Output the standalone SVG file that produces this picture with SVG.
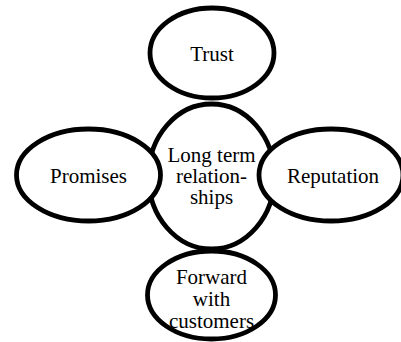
<svg xmlns="http://www.w3.org/2000/svg" width="401" height="342" viewBox="0 0 401 342">
  <style>
    .node ellipse { fill: #ffffff; stroke: #000000; stroke-width: 4.8; }
    .node text { font-family: "Liberation Serif", "Times New Roman", serif; font-size: 21px; fill: #000000; text-anchor: middle; }
  </style>
  <rect width="401" height="342" fill="#ffffff"/>
  <!-- the nodes touch and overlap directly; there are no separate lines -->
  <g id="connectors"></g>
  <g id="center" class="node">
    <ellipse cx="211.5" cy="176.5" rx="63" ry="72.5"/>
    <text x="211.5" y="162">Long term</text>
    <text x="211.5" y="183.3">relation-</text>
    <text x="211.5" y="204.3">ships</text>
  </g>
  <g id="trust" class="node">
    <ellipse cx="212" cy="53" rx="62" ry="45"/>
    <text x="212" y="60.5">Trust</text>
  </g>
  <g id="promises" class="node">
    <ellipse cx="88.5" cy="175" rx="72" ry="46"/>
    <text x="88.5" y="183">Promises</text>
  </g>
  <g id="reputation" class="node">
    <ellipse cx="331" cy="175" rx="72" ry="46"/>
    <text x="333" y="183">Reputation</text>
  </g>
  <g id="forward" class="node">
    <ellipse cx="211.5" cy="295" rx="64" ry="44"/>
    <text x="211.5" y="284.3">Forward</text>
    <text x="211.5" y="306.3">with</text>
    <text x="211.5" y="327.5">customers</text>
  </g>
</svg>
